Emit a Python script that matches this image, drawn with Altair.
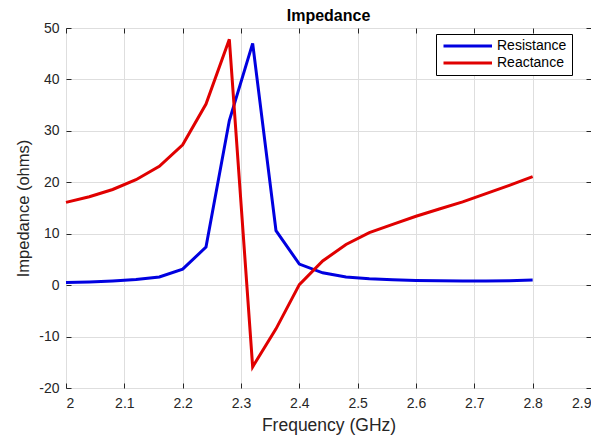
import altair as alt
import pandas as pd

freq = [2.00, 2.04, 2.08, 2.12, 2.16, 2.20, 2.24, 2.28, 2.32, 2.36, 2.40,
        2.44, 2.48, 2.52, 2.56, 2.60, 2.64, 2.68, 2.72, 2.76, 2.80]
resistance = [0.5, 0.6, 0.8, 1.1, 1.6, 3.1, 7.4, 32.0, 47.0, 10.6, 4.1,
              2.4, 1.6, 1.25, 1.05, 0.9, 0.85, 0.8, 0.8, 0.85, 1.0]
reactance = [16.1, 17.2, 18.6, 20.5, 23.1, 27.3, 35.2, 47.8, -15.9, -8.5, 0.1,
             4.7, 7.9, 10.2, 11.8, 13.4, 14.8, 16.2, 17.8, 19.4, 21.1]
series_names = ["Resistance", "Reactance"]
series_colors = ["#0000e0", "#e00000"]
x_ticks = [2.0, 2.1, 2.2, 2.3, 2.4, 2.5, 2.6, 2.7, 2.8, 2.9]
y_ticks = [-20, -10, 0, 10, 20, 30, 40, 50]

rows = []
for f, r in zip(freq, resistance):
    rows.append({"f": f, "v": r, "s": series_names[0]})
for f, x in zip(freq, reactance):
    rows.append({"f": f, "v": x, "s": series_names[1]})
df = pd.DataFrame(rows)

FONT = "Liberation Sans"
AX = "#262626"
GRID = "#dedede"

xscale = alt.Scale(domain=[2.0, 2.9], nice=False, zero=False)
yscale = alt.Scale(domain=[-20, 50], nice=False, zero=False)

lines = alt.Chart(df).mark_line(strokeWidth=3).encode(
    x=alt.X("f:Q", scale=xscale,
            axis=alt.Axis(values=x_ticks, format=".1~f", title="Frequency (GHz)",
                          orient="bottom", offset=-5, tickSize=5, domain=False,
                          grid=True, gridColor=GRID, tickColor=AX,
                          labelColor=AX, labelFont=FONT, labelFontSize=14,
                          labelPadding=8, titleFont=FONT, titleFontSize=17.5,
                          titleFontWeight="normal", titleColor=AX, titlePadding=6)),
    y=alt.Y("v:Q", scale=yscale,
            axis=alt.Axis(values=y_ticks, labelExpr="toString(datum.value)",
                          title="Impedance (ohms)",
                          orient="left", offset=-5, tickSize=5, domain=False,
                          grid=True, gridColor=GRID, tickColor=AX,
                          labelColor=AX, labelFont=FONT, labelFontSize=14,
                          labelPadding=7, titleFont=FONT, titleFontSize=16.5,
                          titleFontWeight="normal", titleColor=AX, titlePadding=7)),
    color=alt.Color("s:N", scale=alt.Scale(domain=series_names, range=series_colors),
                    legend=alt.Legend(title=None, orient="none", legendX=370, legendY=6,
                                      symbolType="M-0.9,0H8.8", symbolSize=100,
                                      symbolStrokeWidth=3, labelFont=FONT,
                                      labelFontSize=14, labelColor="#000000",
                                      labelOffset=42, rowPadding=3,
                                      strokeColor="#000000", fillColor="#ffffff",
                                      padding=5)),
    order=alt.Order("f:Q"),
)

ticks2 = alt.Chart(df).mark_line(opacity=0).encode(
    x=alt.X("f:Q", scale=xscale,
            axis=alt.Axis(values=x_ticks, orient="top", offset=-5, tickSize=5,
                          domain=False, grid=False, labels=False, title=None,
                          tickColor=AX)),
    y=alt.Y("v:Q", scale=yscale,
            axis=alt.Axis(values=y_ticks, orient="right", offset=-5, tickSize=5,
                          domain=False, grid=False, labels=False, title=None,
                          tickColor=AX)),
)

chart = alt.layer(lines, ticks2).resolve_axis(x="independent", y="independent").properties(
    width=525, height=360,
    title=alt.TitleParams("Impedance", font=FONT, fontSize=16, fontWeight="bold",
                          color="#000000", offset=-3),
    autosize=alt.AutoSizeParams(type="none"),
    padding={"left": 58, "top": 20, "right": 0, "bottom": 47},
).configure_view(stroke=AX, strokeWidth=1)

chart.save("out.html", embed_options={"renderer": "svg", "actions": False})
